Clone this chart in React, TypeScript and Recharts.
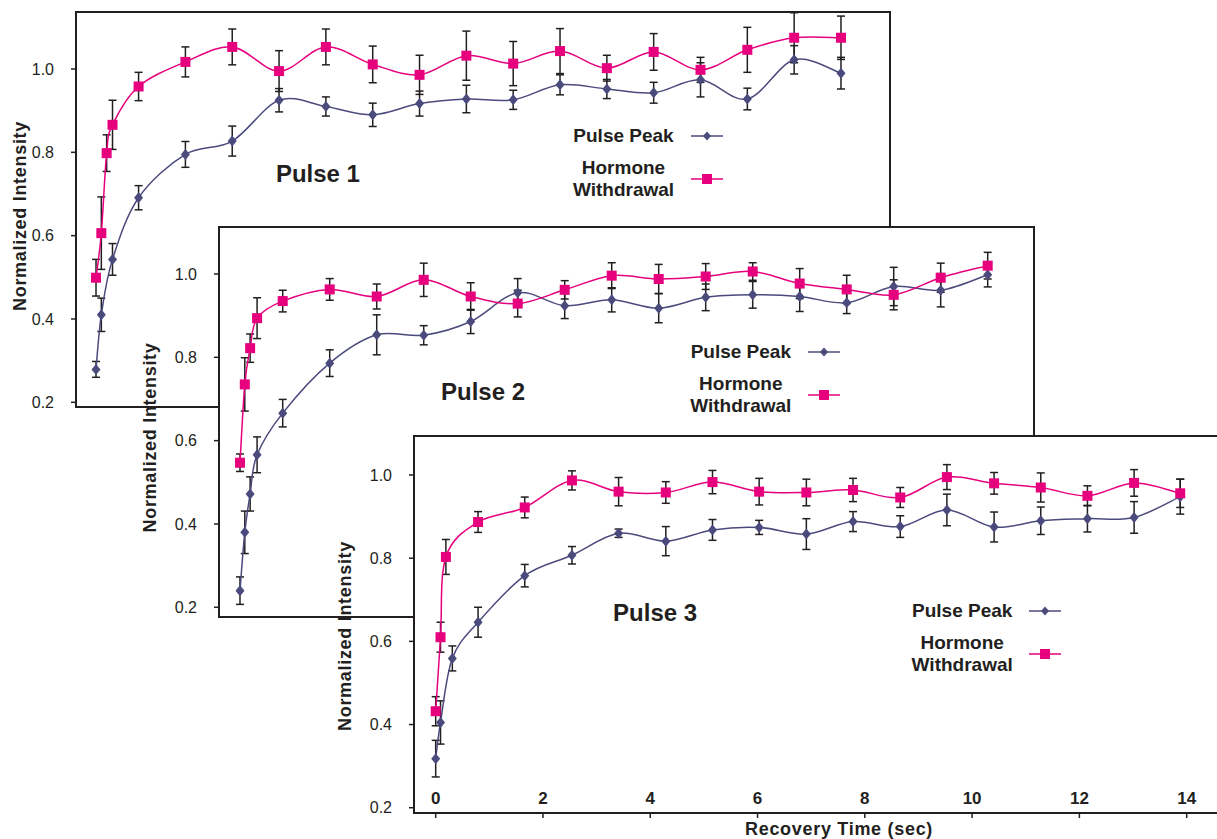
import React from 'react';
import { LineChart, Line, XAxis, YAxis, ErrorBar, Legend, ReferenceDot } from 'recharts';

const FONT = '"Liberation Sans", Arial, Helvetica, sans-serif';
const INK = '#231f20';
const PEAK = '#4b4a7d';
const HORMONE = '#e6007e';

// ---- Pulse 1 ----
const p1HormoneTime = [0, 0.1, 0.2, 0.31, 0.8, 1.68, 2.56, 3.44, 4.32, 5.2, 6.08, 6.96, 7.84, 8.72, 9.6, 10.48, 11.36, 12.24, 13.12, 14];
const p1Hormone = [0.499, 0.606, 0.798, 0.866, 0.958, 1.017, 1.053, 0.995, 1.053, 1.011, 0.986, 1.032, 1.013, 1.043, 1.002, 1.041, 0.998, 1.046, 1.075, 1.075];
const p1HormoneErr = [0.044, 0.087, 0.044, 0.059, 0.034, 0.036, 0.043, 0.049, 0.043, 0.044, 0.047, 0.059, 0.053, 0.054, 0.031, 0.044, 0.03, 0.054, 0.06, 0.052];
const p1PeakTime = [0, 0.1, 0.31, 0.8, 1.68, 2.56, 3.44, 4.32, 5.2, 6.08, 6.96, 7.84, 8.72, 9.6, 10.48, 11.36, 12.24, 13.12, 14];
const p1Peak = [0.279, 0.41, 0.543, 0.691, 0.795, 0.827, 0.925, 0.91, 0.89, 0.917, 0.928, 0.926, 0.962, 0.952, 0.943, 0.974, 0.928, 1.022, 0.99];
const p1PeakErr = [0.019, 0.04, 0.038, 0.029, 0.031, 0.036, 0.028, 0.023, 0.028, 0.03, 0.033, 0.023, 0.024, 0.023, 0.025, 0.041, 0.026, 0.034, 0.038];

// ---- Pulse 2 ----
const p2Time = [0, 0.09, 0.19, 0.32, 0.8, 1.68, 2.56, 3.44, 4.32, 5.2, 6.08, 6.96, 7.84, 8.72, 9.6, 10.48, 11.36, 12.24, 13.12, 14];
const p2Hormone = [0.547, 0.735, 0.822, 0.894, 0.935, 0.963, 0.946, 0.986, 0.946, 0.929, 0.962, 0.996, 0.988, 0.994, 1.006, 0.977, 0.963, 0.95, 0.991, 1.02];
const p2HormoneErr = [0.021, 0.064, 0.034, 0.049, 0.026, 0.026, 0.03, 0.04, 0.033, 0.032, 0.022, 0.031, 0.035, 0.031, 0.021, 0.036, 0.034, 0.036, 0.035, 0.032];
const p2Peak = [0.24, 0.38, 0.472, 0.566, 0.666, 0.786, 0.854, 0.853, 0.886, 0.955, 0.924, 0.938, 0.918, 0.944, 0.95, 0.946, 0.931, 0.97, 0.961, 0.998];
const p2PeakErr = [0.033, 0.051, 0.041, 0.043, 0.033, 0.032, 0.048, 0.023, 0.029, 0.034, 0.031, 0.029, 0.035, 0.032, 0.032, 0.036, 0.026, 0.046, 0.04, 0.029];

// ---- Pulse 3 ----
const p3HormoneTime = [0, 0.09, 0.19, 0.79, 1.66, 2.54, 3.41, 4.29, 5.16, 6.03, 6.91, 7.78, 8.66, 9.53, 10.41, 11.28, 12.15, 13.02, 13.88];
const p3Hormone = [0.432, 0.61, 0.803, 0.887, 0.922, 0.987, 0.96, 0.958, 0.983, 0.96, 0.958, 0.964, 0.946, 0.995, 0.98, 0.97, 0.95, 0.981, 0.956];
const p3HormoneErr = [0.035, 0.036, 0.042, 0.025, 0.025, 0.023, 0.034, 0.026, 0.028, 0.032, 0.032, 0.028, 0.024, 0.03, 0.026, 0.035, 0.024, 0.032, 0.034];
const p3PeakTime = [0, 0.09, 0.31, 0.79, 1.66, 2.54, 3.41, 4.29, 5.16, 6.03, 6.91, 7.78, 8.66, 9.53, 10.41, 11.28, 12.15, 13.02, 13.88];
const p3Peak = [0.318, 0.405, 0.559, 0.646, 0.758, 0.807, 0.86, 0.841, 0.868, 0.874, 0.858, 0.888, 0.876, 0.916, 0.875, 0.89, 0.895, 0.898, 0.948];
const p3PeakErr = [0.044, 0.052, 0.03, 0.036, 0.027, 0.021, 0.01, 0.035, 0.025, 0.017, 0.037, 0.024, 0.026, 0.038, 0.036, 0.033, 0.032, 0.038, 0.042];

const yTicks = [0.2, 0.4, 0.6, 0.8, 1.0];
const xTicks = [0, 2, 4, 6, 8, 10, 12, 14];

type Row = { t: number; v: number; err: number };
const rows = (t: number[], v: number[], e: number[]): Row[] => t.map((time, i) => ({ t: time, v: v[i], err: e[i] }));

// Excel-like smoothed line (Catmull-Rom through every point)
const smoothCurve = (context: any) => {
  let pts: number[][] = [];
  return {
    areaStart() {},
    areaEnd() {},
    lineStart() {
      pts = [];
    },
    point(x: number, y: number) {
      pts.push([x, y]);
    },
    lineEnd() {
      if (!pts.length) return;
      context.moveTo(pts[0][0], pts[0][1]);
      for (let i = 0; i < pts.length - 1; i++) {
        const p0 = pts[Math.max(i - 1, 0)];
        const p1 = pts[i];
        const p2 = pts[i + 1];
        const p3 = pts[Math.min(i + 2, pts.length - 1)];
        context.bezierCurveTo(
          p1[0] + (p2[0] - p0[0]) / 6,
          p1[1] + (p2[1] - p0[1]) / 6,
          p2[0] - (p3[0] - p1[0]) / 6,
          p2[1] - (p3[1] - p1[1]) / 6,
          p2[0],
          p2[1]
        );
      }
    },
  };
};

const diamondDot = (props: any) => {
  const { cx, cy, index } = props;
  if (cx == null || cy == null) return <g key={`d-${index}`} />;
  return (
    <polygon
      key={`d-${index}`}
      points={`${cx},${cy - 5.5} ${cx + 4.5},${cy} ${cx},${cy + 5.5} ${cx - 4.5},${cy}`}
      fill={PEAK}
    />
  );
};

const squareDot = (props: any) => {
  const { cx, cy, index } = props;
  if (cx == null || cy == null) return <g key={`s-${index}`} />;
  return <rect key={`s-${index}`} x={cx - 5} y={cy - 5} width={10} height={10} fill={HORMONE} />;
};

const LegendBox = ({ payload }: any) => {
  const items = [...(payload || [])].sort((a: any, b: any) => (a.color === PEAK ? -1 : 0) - (b.color === PEAK ? -1 : 0));
  return (
    <div style={{ fontFamily: FONT, fontWeight: 700, fontSize: 19, color: INK, lineHeight: '22px' }}>
      {items.map((item: any, i: number) => (
        <div key={i} style={{ display: 'flex', alignItems: 'center', marginBottom: i === 0 ? 10 : 0 }}>
          <div style={{ width: 112, textAlign: 'center', whiteSpace: 'pre-line' }}>{item.value}</div>
          <svg width={32} height={12} style={{ marginLeft: 11, display: 'block' }}>
            <line x1={0} y1={6} x2={32} y2={6} stroke={item.color} strokeWidth={1.5} />
            {item.color === PEAK ? (
              <polygon points="16,1.5 20,6 16,10.5 12,6" fill={PEAK} />
            ) : (
              <rect x={11} y={1} width={10} height={10} fill={HORMONE} />
            )}
          </svg>
        </div>
      ))}
    </div>
  );
};

const XTick = ({ x, y, payload }: any) => (
  <text x={x} y={y - 14} textAnchor="middle" fontFamily={FONT} fontWeight={700} fontSize={17} fill={INK}>
    {payload.value}
  </text>
);

const MARGIN_TOP = 12;
const MARGIN_RIGHT = 2;

type PanelProps = {
  left: number;
  top: number;
  width: number;
  height: number;
  yAxisWidth: number;
  xAxisHeight: number;
  marginBottom: number;
  xDomain: [number, number];
  yDomain: [number, number];
  peak: Row[];
  hormone: Row[];
  title: string;
  titleAt: [number, number];
  legendLeft: number;
  legendTop: number;
  yTitleX: number;
  yTitleShift: number;
  showXTicks: boolean;
};

const Panel = (p: PanelProps) => {
  const plotW = p.width - MARGIN_RIGHT - p.yAxisWidth;
  const plotH = p.height - MARGIN_TOP - p.marginBottom - p.xAxisHeight;
  return (
    <div style={{ position: 'absolute', left: p.left, top: p.top, width: p.width, height: p.height }}>
      {/* white framed plot area behind the chart */}
      <div
        style={{
          position: 'absolute',
          left: p.yAxisWidth - 1,
          top: MARGIN_TOP - 1,
          width: plotW + 2,
          height: plotH + 2,
          boxSizing: 'border-box',
          border: `2px solid ${INK}`,
          background: '#ffffff',
        }}
      />
      <LineChart
        width={p.width}
        height={p.height}
        margin={{ top: MARGIN_TOP, right: MARGIN_RIGHT, left: 0, bottom: p.marginBottom }}
      >
        <XAxis
          dataKey="t"
          type="number"
          domain={p.xDomain}
          allowDataOverflow
          ticks={p.showXTicks ? xTicks : []}
          interval={0}
          height={p.xAxisHeight}
          axisLine={false}
          tickLine={p.showXTicks ? { stroke: INK, strokeWidth: 1.5 } : false}
          tickSize={5}
          tickMargin={0}
          tick={p.showXTicks ? (props: any) => <XTick {...props} /> : false}
          label={
            p.showXTicks
              ? {
                  content: (lp: any) => (
                    <text
                      x={lp.viewBox.x + lp.viewBox.width / 2 + 16}
                      y={lp.viewBox.y + 22}
                      textAnchor="middle"
                      fontFamily={FONT}
                      fontWeight={700}
                      fontSize={18}
                      fill={INK}
                      style={{ letterSpacing: '0.7px' }}
                    >
                      Recovery Time (sec)
                    </text>
                  ),
                }
              : undefined
          }
        />
        <YAxis
          type="number"
          domain={p.yDomain}
          allowDataOverflow
          ticks={yTicks}
          interval={0}
          width={p.yAxisWidth}
          axisLine={false}
          tickLine={{ stroke: INK, strokeWidth: 1.5 }}
          tickSize={5}
          tickMargin={17}
          tickFormatter={(v: number) => v.toFixed(1)}
          tick={{ fontFamily: FONT, fontSize: 16, fill: INK }}
          label={{
            content: (lp: any) => {
              const cx = lp.viewBox.x + p.yTitleX;
              const cy = lp.viewBox.y + lp.viewBox.height / 2 + p.yTitleShift;
              return (
                <text
                  x={cx}
                  y={cy}
                  dy={6.4}
                  transform={`rotate(-90 ${cx} ${cy})`}
                  textAnchor="middle"
                  fontFamily={FONT}
                  fontWeight={700}
                  fontSize={18}
                  fill={INK}
                  style={{ letterSpacing: '0.7px' }}
                >
                  Normalized Intensity
                </text>
              );
            },
          }}
        />
        <Line
          data={p.peak}
          dataKey="v"
          name="Pulse Peak"
          type={smoothCurve as any}
          stroke={PEAK}
          strokeWidth={1.5}
          dot={diamondDot}
          activeDot={false}
          legendType="diamond"
          isAnimationActive={false}
        >
          <ErrorBar dataKey="err" direction="y" width={4} stroke={INK} strokeWidth={1.5} />
        </Line>
        <Line
          data={p.hormone}
          dataKey="v"
          name={'Hormone\nWithdrawal'}
          type={smoothCurve as any}
          stroke={HORMONE}
          strokeWidth={1.5}
          dot={squareDot}
          activeDot={false}
          legendType="square"
          isAnimationActive={false}
        >
          <ErrorBar dataKey="err" direction="y" width={4} stroke={INK} strokeWidth={1.5} />
        </Line>
        <ReferenceDot
          x={p.titleAt[0]}
          y={p.titleAt[1]}
          r={1}
          fill="none"
          stroke="none"
          label={{
            content: (lp: any) => (
              <text
                x={lp.viewBox.x + lp.viewBox.width / 2}
                y={lp.viewBox.y + lp.viewBox.height / 2}
                dy={8.6}
                textAnchor="middle"
                fontFamily={FONT}
                fontWeight={700}
                fontSize={24}
                fill={INK}
              >
                {p.title}
              </text>
            ),
          }}
        />
        <Legend
          layout="vertical"
          align="center"
          verticalAlign="middle"
          content={(lp: any) => <LegendBox {...lp} />}
          wrapperStyle={{ left: p.legendLeft, top: p.legendTop, width: 160 }}
        />
      </LineChart>
    </div>
  );
};

export default function App() {
  return (
    <div
      style={{
        position: 'absolute',
        left: 0,
        top: 0,
        width: 1217,
        height: 839,
        overflow: 'hidden',
        background: '#ffffff',
      }}
    >
      <Panel
        left={0}
        top={0}
        width={892}
        height={410}
        yAxisWidth={76}
        xAxisHeight={0}
        marginBottom={3}
        xDomain={[-0.376, 14.921]}
        yDomain={[0.1887, 1.1368]}
        peak={rows(p1PeakTime, p1Peak, p1PeakErr)}
        hormone={rows(p1HormoneTime, p1Hormone, p1HormoneErr)}
        title="Pulse 1"
        titleAt={[4.17, 0.75]}
        legendLeft={567.5}
        legendTop={125}
        yTitleX={20}
        yTitleShift={6.5}
        showXTicks={false}
      />
      <Panel
        left={129}
        top={215}
        width={907}
        height={405}
        yAxisWidth={90}
        xAxisHeight={0}
        marginBottom={3}
        xDomain={[-0.393, 14.867]}
        yDomain={[0.1767, 1.1128]}
        peak={rows(p2Time, p2Peak, p2PeakErr)}
        hormone={rows(p2Time, p2Hormone, p2HormoneErr)}
        title="Pulse 2"
        titleAt={[4.55, 0.719]}
        legendLeft={555.8}
        legendTop={125.7}
        yTitleX={21}
        yTitleShift={15.5}
        showXTicks={false}
      />
      <Panel
        left={324}
        top={424}
        width={910}
        height={415}
        yAxisWidth={90}
        xAxisHeight={26}
        marginBottom={0}
        xDomain={[-0.4045, 14.845]}
        yDomain={[0.1873, 1.0938]}
        peak={rows(p3PeakTime, p3Peak, p3PeakErr)}
        hormone={rows(p3HormoneTime, p3Hormone, p3HormoneErr)}
        title="Pulse 3"
        titleAt={[4.09, 0.669]}
        legendLeft={582.2}
        legendTop={175.7}
        yTitleX={21}
        yTitleShift={11.5}
        showXTicks={true}
      />
    </div>
  );
}
